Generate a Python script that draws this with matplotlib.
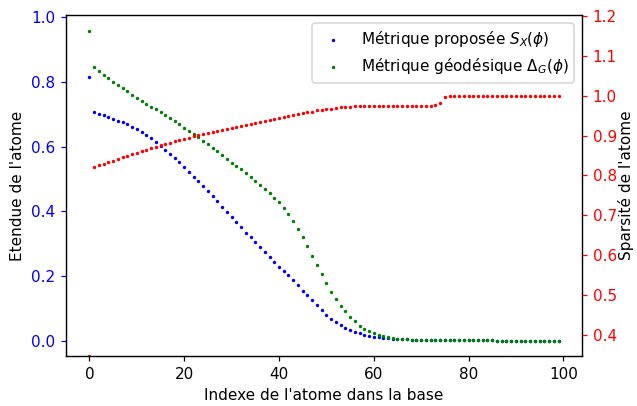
import numpy as np
import matplotlib
matplotlib.use("Agg")
import matplotlib.pyplot as plt

# index des atomes
idx = np.arange(100)

# etendue - metrique proposee
etendue_sx = [0.814, 0.706, 0.701, 0.696, 0.690, 0.685, 0.680, 0.675, 0.669, 0.662,
              0.653, 0.645, 0.636, 0.626, 0.614, 0.603, 0.591, 0.578, 0.565, 0.552,
              0.537, 0.523, 0.507, 0.493, 0.478, 0.462, 0.447, 0.431, 0.415, 0.399,
              0.383, 0.367, 0.352, 0.335, 0.320, 0.305, 0.289, 0.274, 0.259, 0.245,
              0.230, 0.217, 0.203, 0.188, 0.174, 0.156, 0.142, 0.127, 0.111, 0.096,
              0.082, 0.070, 0.060, 0.049, 0.042, 0.035, 0.029, 0.024, 0.020, 0.016,
              0.014, 0.012, 0.010, 0.009, 0.008, 0.007, 0.006, 0.006, 0.005, 0.005,
              0.004, 0.004, 0.004, 0.003, 0.003, 0.003, 0.003, 0.003, 0.003, 0.003,
              0.003, 0.003, 0.003, 0.003, 0.003, 0.003, 0.002, 0.002, 0.002, 0.002,
              0.002, 0.002, 0.002, 0.002, 0.002, 0.002, 0.002, 0.002, 0.002, 0.002]

# etendue - metrique geodesique
etendue_geo = [0.958, 0.844, 0.832, 0.821, 0.811, 0.800, 0.789, 0.780, 0.770, 0.760,
               0.751, 0.742, 0.732, 0.723, 0.715, 0.706, 0.697, 0.687, 0.678, 0.669,
               0.658, 0.649, 0.639, 0.629, 0.618, 0.607, 0.596, 0.585, 0.574, 0.563,
               0.551, 0.541, 0.530, 0.519, 0.506, 0.495, 0.482, 0.470, 0.457, 0.443,
               0.428, 0.410, 0.391, 0.370, 0.347, 0.321, 0.293, 0.264, 0.235, 0.206,
               0.178, 0.152, 0.129, 0.109, 0.092, 0.075, 0.061, 0.048, 0.038, 0.031,
               0.025, 0.020, 0.015, 0.012, 0.010, 0.008, 0.007, 0.006, 0.005, 0.005,
               0.004, 0.004, 0.004, 0.003, 0.003, 0.003, 0.003, 0.003, 0.003, 0.003,
               0.003, 0.003, 0.003, 0.003, 0.003, 0.003, 0.002, 0.002, 0.002, 0.002,
               0.002, 0.002, 0.002, 0.002, 0.002, 0.002, 0.002, 0.002, 0.002, 0.002]

# sparsite
sparsite = [0.347, 0.822, 0.826, 0.830, 0.833, 0.837, 0.841, 0.846, 0.850, 0.853,
            0.857, 0.861, 0.865, 0.868, 0.872, 0.876, 0.879, 0.882, 0.886, 0.889,
            0.892, 0.895, 0.898, 0.901, 0.903, 0.906, 0.908, 0.912, 0.914, 0.917,
            0.919, 0.922, 0.924, 0.927, 0.930, 0.932, 0.935, 0.937, 0.940, 0.942,
            0.945, 0.947, 0.950, 0.952, 0.954, 0.956, 0.958, 0.960, 0.963, 0.965,
            0.966, 0.968, 0.970, 0.972, 0.973, 0.973, 0.974, 0.974, 0.974, 0.974,
            0.974, 0.974, 0.974, 0.974, 0.974, 0.974, 0.974, 0.974, 0.974, 0.974,
            0.974, 0.974, 0.974, 0.976, 0.983, 0.996, 0.999, 1.000, 1.000, 1.000,
            1.000, 1.000, 1.000, 1.000, 1.000, 1.000, 1.000, 1.000, 1.000, 1.000,
            1.000, 1.000, 1.000, 1.000, 1.000, 1.000, 1.000, 1.000, 1.000, 1.000]

fig, ax1 = plt.subplots(figsize=(637 / 110, 406 / 110), dpi=110)
fig.subplots_adjust(left=0.1036, right=0.9137, bottom=0.123, top=0.963)

ax1.scatter(idx, etendue_sx, s=1.5, color="blue", label=r"Métrique proposée $S_X(\phi)$")
ax1.scatter(idx, etendue_geo, s=1.5, color="green", label=r"Métrique géodésique $\Delta_G(\phi)$")
ax1.set_xlabel("Indexe de l'atome dans la base")
ax1.set_ylabel("Etendue de l'atome")
ax1.tick_params(axis="y", colors="blue")
ax1.legend(loc="upper right")

ax2 = ax1.twinx()
ax2.scatter(idx, sparsite, s=1.5, color="red")
ax2.set_ylim(0.347, 1.2025)
ax2.set_ylabel("Sparsité de l'atome", labelpad=1)
ax2.tick_params(axis="y", colors="red")

fig.savefig("out.png")
